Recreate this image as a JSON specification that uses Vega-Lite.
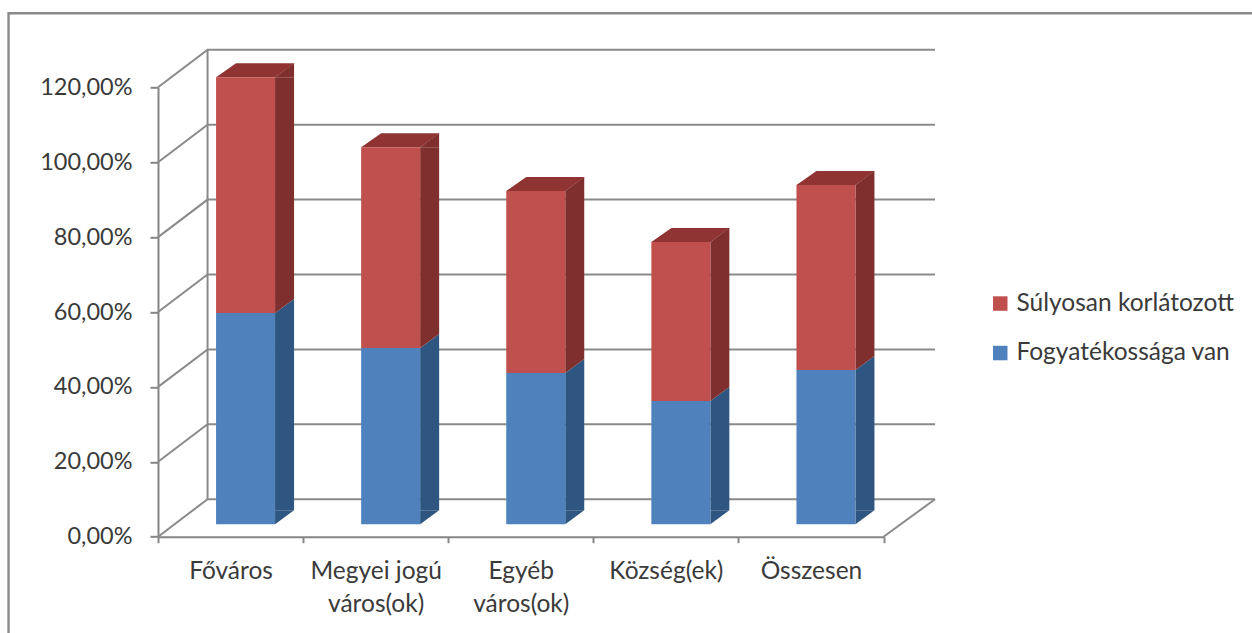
{"$schema":"https://vega.github.io/schema/vega-lite/v6.json","width":725.5,"height":449.4,"padding":{"left":158,"top":87.3,"right":368.5,"bottom":96.3},"autosize":"none","background":"white","config":{"view":{"stroke":null},"font":"Lato"},
"encoding":{"x":{"field":"cat","type":"nominal","sort":null,"scale":{"domain":["Főváros","Megyei jogú város(ok)","Egyéb város(ok)","Község(ek)","Összesen"],"paddingInner":0,"paddingOuter":0},"title":null,"axis":{"labelAngle":0,"labelFont":"Lato","labelFontSize":24.5,"labelColor":"#3a3a3a","labelPadding":17,"labelLineHeight":33,"labelBaseline":"top","tickBand":"extent","tickSize":6,"tickWidth":2,"tickColor":"#868686","domainColor":"#868686","domainWidth":2,"labelExpr":"datum.label=='Megyei jogú város(ok)'?['Megyei jogú','város(ok)']:datum.label=='Egyéb város(ok)'?['Egyéb','város(ok)']:datum.label"}},
"y":{"type":"quantitative","scale":{"domain":[0,120],"nice":false},"title":null}},
"layer":[
{"data":{"values":[{"cat":"Főváros","tick":120}]},"mark":{"type":"point","shape":"M-222,546 V-74 H1022","size":4,"filled":false,"stroke":"#8a8a8a","strokeWidth":2.4,"opacity":1},"encoding":{"y":{"field":"tick","type":"quantitative","axis":{"values":[0,20,40,60,80,100,120],"labelExpr":"replace(format(datum.value,'.2f'),'.',',')+'%'","labelFont":"Lato","labelFontSize":23.5,"labelColor":"#3a3a3a","labelPadding":18,"tickSize":8,"tickWidth":2,"tickColor":"#868686","domainColor":"#868686","domainWidth":2,"grid":false}}}},
{"data":{"values":[{"cat":"Főváros","tick":120}]},"mark":{"type":"point","shape":"M-23,-37.5 V412","size":4,"filled":false,"stroke":"#8a8a8a","strokeWidth":2,"opacity":1},"encoding":{"y":{"field":"tick","type":"quantitative"}}},
{"data":{"values":[{"cat":"Főváros","tick":0}]},"mark":{"type":"point","shape":"M653,0 L704.5,-37.5","size":4,"filled":false,"stroke":"#8a8a8a","strokeWidth":2,"opacity":1},"encoding":{"y":{"field":"tick","type":"quantitative"}}},
{"data":{"values":[{"cat":"Főváros","tick":0},{"cat":"Főváros","tick":20},{"cat":"Főváros","tick":40},{"cat":"Főváros","tick":60},{"cat":"Főváros","tick":80},{"cat":"Főváros","tick":100},{"cat":"Főváros","tick":120}]},"mark":{"type":"point","shape":"M-72.5,0 L-23,-37.5 L704.5,-37.5","size":4,"filled":false,"stroke":"#8a8a8a","strokeWidth":2,"opacity":1},"encoding":{"y":{"field":"tick","type":"quantitative"}}},
{"data":{"values":[
{"cat":"Főváros","series":"Fogyatékossága van","value":56.4},{"cat":"Főváros","series":"Súlyosan korlátozott","value":63},
{"cat":"Megyei jogú város(ok)","series":"Fogyatékossága van","value":47.1},{"cat":"Megyei jogú város(ok)","series":"Súlyosan korlátozott","value":53.6},
{"cat":"Egyéb város(ok)","series":"Fogyatékossága van","value":40.4},{"cat":"Egyéb város(ok)","series":"Súlyosan korlátozott","value":48.6},
{"cat":"Község(ek)","series":"Fogyatékossága van","value":32.9},{"cat":"Község(ek)","series":"Súlyosan korlátozott","value":42.5},
{"cat":"Összesen","series":"Fogyatékossága van","value":41.2},{"cat":"Összesen","series":"Súlyosan korlátozott","value":49.4}]},
"transform":[{"stack":"value","groupby":["cat"],"sort":[{"field":"series","order":"ascending"}],"as":["y0","y1"]}],
"layer":[
{"mark":{"type":"bar","width":19,"xOffset":54,"yOffset":-12.4,"y2Offset":-26.4},"encoding":{"y":{"field":"y1","type":"quantitative"},"y2":{"field":"y0"},"fill":{"condition":{"test":"datum.series=='Súlyosan korlátozott'","value":"#7f302e"},"value":"#2e5680"}}},
{"mark":{"type":"point","shape":"M0,0 L19,-14 L19,0 Z","size":4,"filled":true,"opacity":1,"xOffset":44.5,"yOffset":-12.4},"encoding":{"y":{"field":"y1","type":"quantitative"},"fill":{"condition":{"test":"datum.series=='Súlyosan korlátozott'","value":"#7f302e"},"value":"#2e5680"}}},
{"mark":{"type":"point","shape":"M0,0 L0,-14 L19,-14 Z","size":4,"filled":true,"opacity":1,"xOffset":44.5,"yOffset":-12.4},"encoding":{"y":{"field":"y0","type":"quantitative"},"fill":{"condition":{"test":"datum.series=='Súlyosan korlátozott'","value":"#7f302e"},"value":"#2e5680"}}},
{"transform":[{"filter":"datum.series=='Súlyosan korlátozott'"}],"mark":{"type":"point","shape":"M-29.5,0 L-9.5,-14 L49,-14 L29.5,0 Z","size":4,"filled":true,"opacity":1,"fill":"#8f3432","xOffset":15,"yOffset":-12.4},"encoding":{"y":{"field":"y1","type":"quantitative"}}},
{"mark":{"type":"bar","width":59,"xOffset":15,"yOffset":-12.4,"y2Offset":-12.4},"encoding":{"y":{"field":"y1","type":"quantitative"},"y2":{"field":"y0"},"color":{"field":"series","type":"nominal","scale":{"domain":["Súlyosan korlátozott","Fogyatékossága van"],"range":["#c0504d","#4f81bd"]},"title":null,"legend":{"orient":"none","legendX":830,"legendY":204,"symbolType":"square","symbolSize":210,"symbolOpacity":1,"labelFont":"Lato","labelFontSize":24.5,"labelColor":"#3a3a3a","labelLimit":400,"rowPadding":24.5,"labelOffset":4}}}}
]}
]}
